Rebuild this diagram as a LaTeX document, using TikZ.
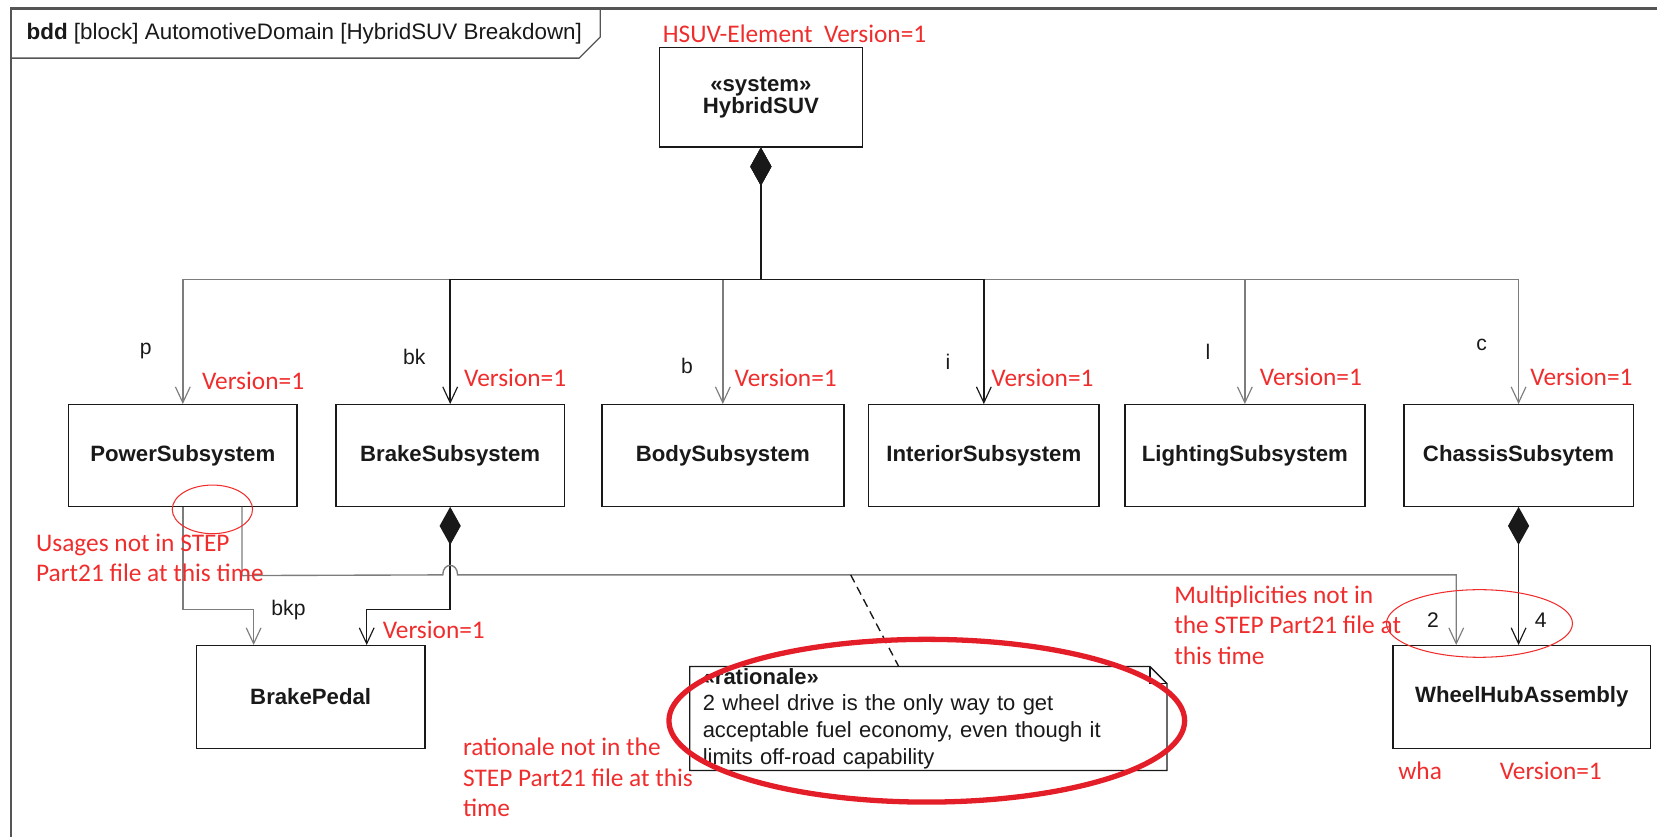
\documentclass[tikz,border=0pt]{standalone}
\usepackage{fontspec}
\setmainfont{Liberation Sans}
\newfontfamily\redfont{Carlito}
\usetikzlibrary{arrows.meta,calc}
\definecolor{hsred}{RGB}{240,45,45}
\definecolor{ellred}{RGB}{228,30,40}
\definecolor{framegray}{RGB}{85,85,85}
\definecolor{linegray}{RGB}{125,125,125}
\definecolor{ink}{RGB}{25,25,25}
\tikzset{
  block/.style={draw=ink,line width=1.3pt,minimum width=#1,minimum height=96pt,inner sep=0pt,
    font=\fontsize{21}{21}\selectfont\bfseries,text=ink,align=center},
  block/.default=216pt,
  vtip/.tip={Straight Barb[length=15pt,width=14pt,line width=1.1pt]},
  assoc/.style={draw=linegray,line width=1.3pt,-vtip},
  comp/.style={draw=ink,line width=1.4pt,{Diamond[length=36pt,width=20pt]}-vtip},
  compgray/.style={comp,draw=linegray},
  rolelbl/.style={inner sep=0pt,font=\fontsize{20}{22}\selectfont,text=ink},
  redlbl/.style={inner sep=0pt,text=hsred,font=\redfont\fontsize{24}{29}\selectfont,align=left},
  notebox/.style={minimum width=451pt,minimum height=98pt,inner xsep=12pt,inner ysep=0pt,
    text width=427pt,align=left,font=\fontsize{20.8}{25.3}\selectfont,text=ink},
  remark/.style={draw=hsred,line width=1pt},
}
\begin{document}
\begin{tikzpicture}[x=1pt,y=-1pt]
\useasboundingbox (0,0) rectangle (1568,792);
% frame and header
\draw[framegray,line width=2pt] (10,792) -- (10,8) -- (1568,8);
\node[anchor=west,inner sep=0pt,font=\fontsize{21.2}{22}\selectfont,text=ink] (hdr) at (25,32)
  {\textbf{bdd} [block] AutomotiveDomain [HybridSUV Breakdown]};
\draw[framegray,line width=1.2pt] (10,55) -- (548,55) -- (568,35) -- (568,8);

% blocks
\node[block=192pt,minimum height=94pt] (hsuv) at (720,92) {«system»\\HybridSUV};
\node[block] (ps) at (173,431) {PowerSubsystem};
\node[block] (bs) at (426,431) {BrakeSubsystem};
\node[block=229pt] (bds) at (684,431) {BodySubsystem};
\node[block=218pt] (is) at (931,431) {InteriorSubsystem};
\node[block=227pt] (ls) at (1178,431) {LightingSubsystem};
\node[block=217pt] (cs) at (1437,431) {ChassisSubsytem};
\node[block=216pt,minimum height=97pt] (bp) at (294,659.5) {BrakePedal};
\node[block=244pt,minimum height=97pt] (wha) at (1440,659.5) {WheelHubAssembly};

% composition from HybridSUV
\foreach \t in {ps,bds,ls,cs} \draw[compgray] (hsuv.south) -- ++(0,125) -| (\t.north);
\foreach \t in {bs,is} \draw[comp] (hsuv.south) -- ++(0,125) -| (\t.north);

% lower connectors
\draw[assoc] (ps.south) -- ++(0,97) -| ([xshift=-54pt]bp.north);
\draw[comp] (bs.south) -- ++(0,97) -| ([xshift=53pt]bp.north);
\draw[assoc] ([xshift=56pt]ps.south) -- ++(0,65) -- (419,544)
  .. controls (419,532) and (433,532) .. (433,544) -| ([xshift=-62pt]wha.north);
\draw[comp] (cs.south) -- ([xshift=-3pt]wha.north);

% role names
\node[rolelbl] (lp) at (138,332) {p};
\node[rolelbl] (lbk) at (392,338) {bk};
\node[rolelbl] (lb) at (650,346) {b};
\node[rolelbl] (li) at (897,342) {i};
\node[rolelbl] (ll) at (1143,333) {l};
\node[rolelbl] (lc) at (1402,326) {c};
\node[rolelbl] (lbkp) at (273,577) {bkp};
\node[rolelbl] (m2) at (1356,587) {2};
\node[rolelbl] (m4) at (1458,587) {4};

% rationale note
\node[notebox] (rat) at (878.5,680)
  {\textbf{«rationale»}\\2 wheel drive is the only way to get\\acceptable fuel economy, even though it\\limits off-road capability};
\draw[ink,line width=1.2pt] (rat.south west) -- (rat.north west) -- ([xshift=-16pt]rat.north east)
  -- ([yshift=-16pt]rat.north east) -- (rat.south east) -- cycle;
\draw[ink,line width=1pt] ([xshift=-16pt]rat.north east) -- ([xshift=-16pt,yshift=-16pt]rat.north east)
  -- ([yshift=-16pt]rat.north east);
\coordinate (nanc) at (805,544);
\draw[ink,line width=1.3pt,dash pattern=on 8pt off 5pt] (nanc) -- ([xshift=-28pt]rat.north);

% red annotations
\node[redlbl,anchor=west] (v0) at (627,32) {HSUV-Element~~Version=1};
\node[redlbl,anchor=west] (v1) at (191,360) {Version=1};
\node[redlbl,anchor=west] (v2) at (439,358) {Version=1};
\node[redlbl,anchor=west] (v3) at (695,358) {Version=1};
\node[redlbl,anchor=west] (v4) at (938,358) {Version=1};
\node[redlbl,anchor=west] (v5) at (1192,357) {Version=1};
\node[redlbl,anchor=west] (v6) at (1448,357) {Version=1};
\node[redlbl,anchor=west] (v7) at (362,596) {Version=1};
\node[redlbl,anchor=west] (v8) at (1419,729) {Version=1};
\node[redlbl,anchor=west] (wh) at (1323,729) {wha};
\node[redlbl,anchor=north west] (n1) at (34,505) {Usages not in STEP\\Part21 file at this time};
\node[redlbl,anchor=north west] (n2) at (1111,554) {Multiplicities not in\\the STEP Part21 file at\\this time};
\node[redlbl,anchor=north west] (n3) at (438,698) {rationale not in the\\STEP Part21 file at this\\time};

\draw[remark] (201,482) ellipse [x radius=38, y radius=23];
\draw[remark] (1400,590) ellipse [x radius=88, y radius=32];
\draw[ellred,line width=5pt] (877,682) ellipse [x radius=244, y radius=77];
\end{tikzpicture}
\end{document}
